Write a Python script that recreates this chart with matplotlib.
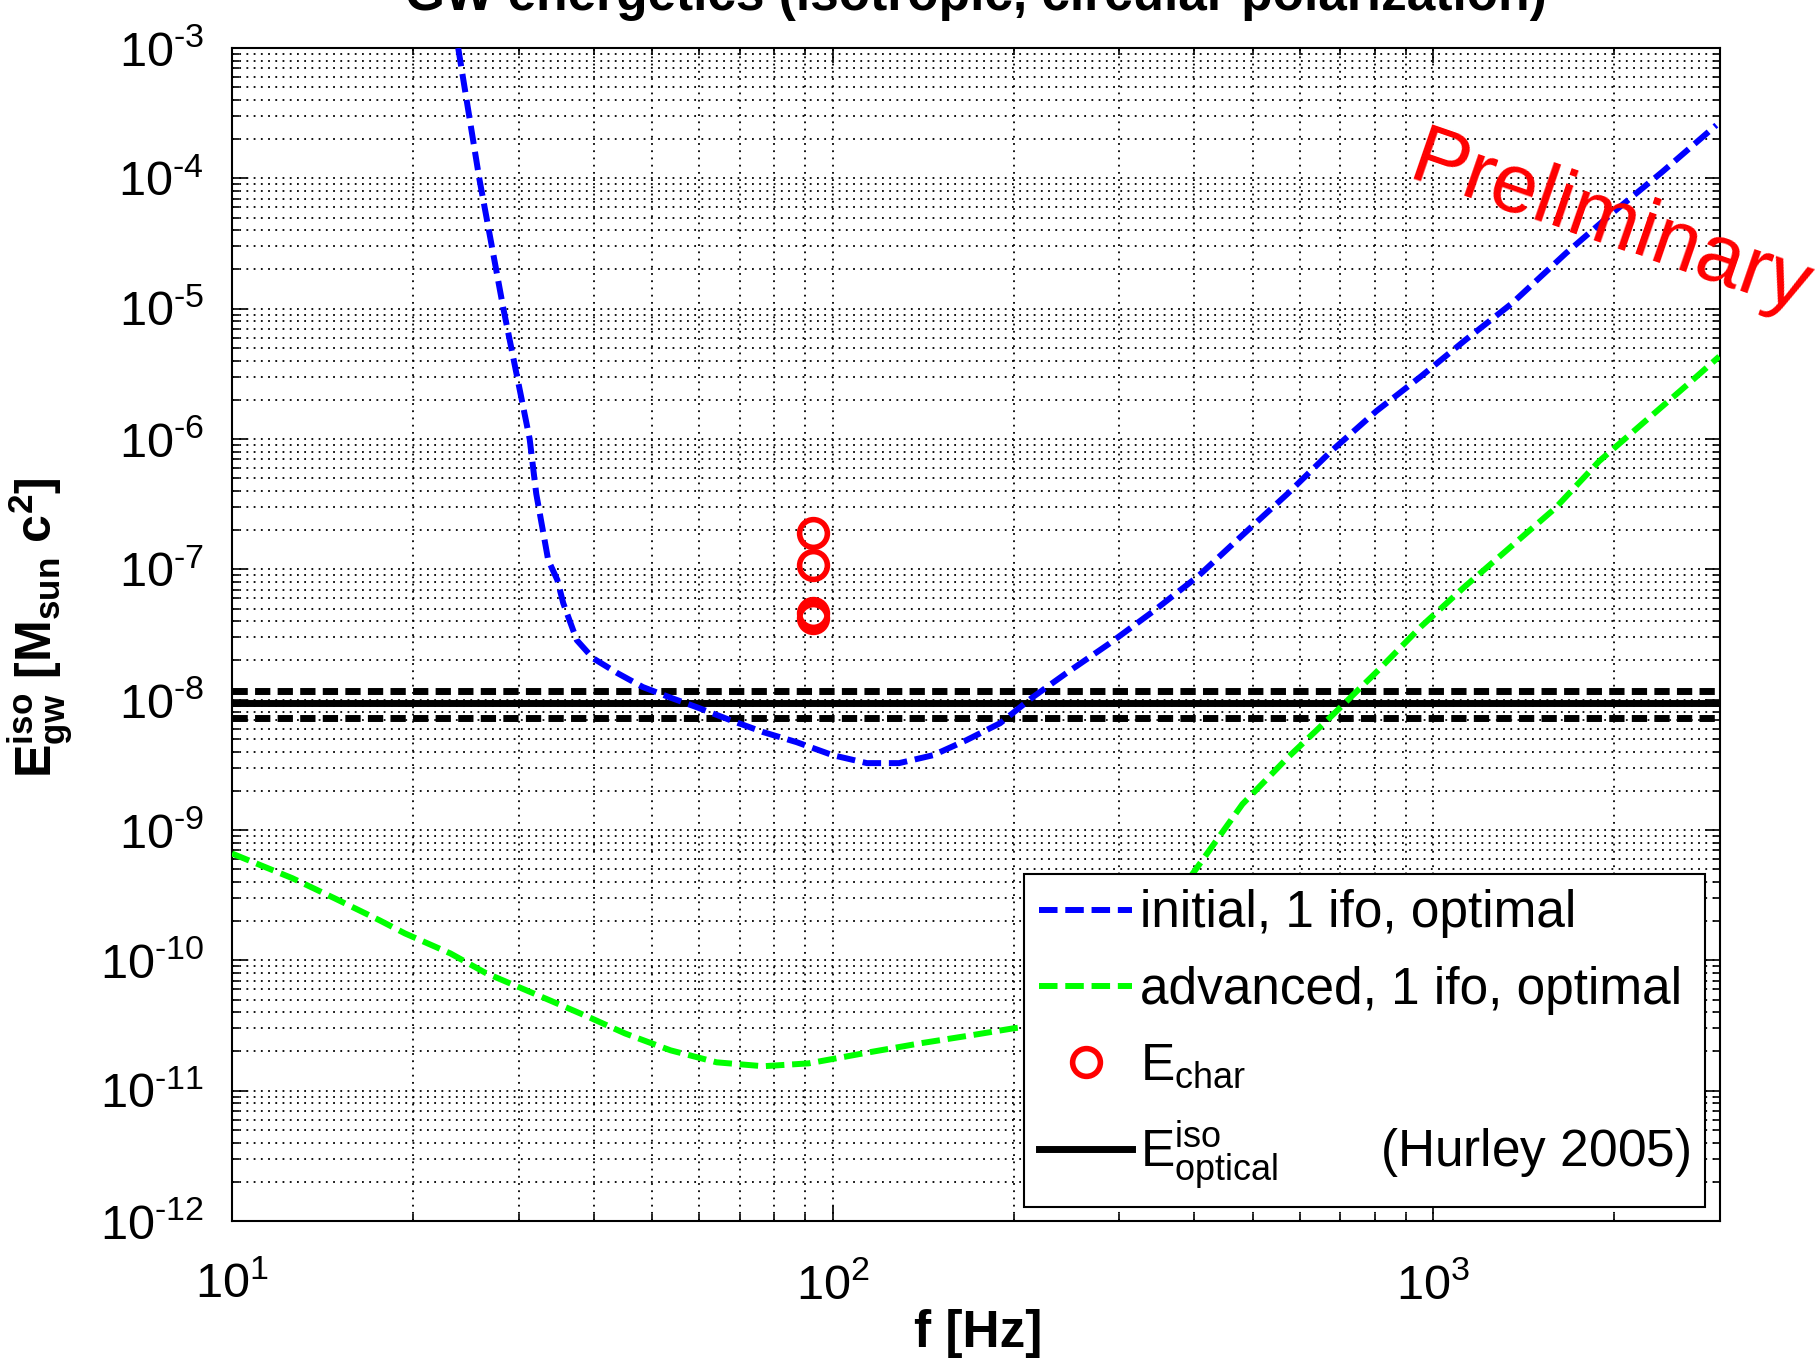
import matplotlib
matplotlib.use('agg')
import matplotlib.pyplot as plt
from matplotlib import font_manager
from matplotlib.ticker import LogLocator, NullFormatter

# initial detector, 1 ifo, optimal orientation
f_init = [23.8, 25.8, 28.3, 31.3, 32.1, 33.6, 34.8, 35.6, 37.5, 39.9, 43.8, 48.3,
          53.6, 59.4, 67.5, 76.6, 87.1, 100, 114, 129, 147, 167, 190, 215, 245,
          288, 342, 406, 481, 571, 676, 804, 955, 1130, 1352, 1663, 1986, 2404, 2958]
E_init = [1.0e-3, 1.0e-4, 1.0e-5, 1.0e-6, 3.8e-7, 1.18e-7, 8.3e-8, 5.5e-8, 2.86e-8,
          2.08e-8, 1.6e-8, 1.25e-8, 1.04e-8, 8.75e-9, 6.97e-9, 5.64e-9, 4.72e-9,
          3.75e-9, 3.26e-9, 3.26e-9, 3.75e-9, 4.89e-9, 6.6e-9, 1.04e-8, 1.6e-8,
          2.67e-8, 4.78e-8, 8.87e-8, 1.83e-7, 3.78e-7, 8.07e-7, 1.64e-6, 3.04e-6,
          5.74e-6, 1.10e-5, 2.67e-5, 5.42e-5, 1.12e-4, 2.56e-4]

# advanced detector (the part behind the legend is a guess)
f_adv = [10, 12.6, 14.8, 17.6, 19.4, 23.1, 26.5, 32.3, 39.3, 45.1, 53.7, 64.1, 76.6,
         91.2, 115, 140, 170, 200, 263, 399, 481, 571, 679, 804, 955, 1130, 1343,
         1596, 1888, 2244, 2667, 2992]
E_adv = [6.6e-10, 4.27e-10, 3.0e-10, 2.03e-10, 1.61e-10, 1.13e-10, 7.96e-11, 5.4e-11,
         3.66e-11, 2.75e-11, 2.04e-11, 1.65e-11, 1.54e-11, 1.62e-11, 1.97e-11,
         2.31e-11, 2.66e-11, 3.01e-11, 3.5e-11, 4.74e-10, 1.58e-9, 3.56e-9, 7.6e-9,
         1.63e-8, 3.66e-8, 7.43e-8, 1.48e-7, 2.95e-7, 6.76e-7, 1.35e-6, 2.69e-6, 4.3e-6]

# characteristic energies
f_char = [92.7, 92.7, 92.7, 92.7]
E_char = [1.90e-7, 1.08e-7, 4.65e-8, 4.26e-8]

# optical isotropic energy with its band
E_opt = 9.4e-9
E_opt_band = [1.17e-8, 7.24e-9]

xticks = [10, 100, 1000]
xticklabels = [r'$10^{1}$', r'$10^{2}$', r'$10^{3}$']
yticks = [1e-12, 1e-11, 1e-10, 1e-9, 1e-8, 1e-7, 1e-6, 1e-5, 1e-4, 1e-3]
yticklabels = [r'$10^{‐12}$', r'$10^{‐11}$', r'$10^{‐10}$', r'$10^{‐9}$', r'$10^{‐8}$',
               r'$10^{‐7}$', r'$10^{‐6}$', r'$10^{‐5}$', r'$10^{‐4}$', r'$10^{‐3}$']

plt.rcParams['font.family'] = 'Liberation Sans'
plt.rcParams['mathtext.default'] = 'regular'
plt.rcParams['font.size'] = 37

names = {f.name for f in font_manager.fontManager.ttflist}
if 'Liberation Sans Narrow' in names:
    tick_font, tick_size = 'Liberation Sans Narrow', 40
else:
    tick_font, tick_size = 'Liberation Sans', 35

fig = plt.figure(figsize=(18.19, 13.58), dpi=100)
ax = fig.add_axes([0.12754, 0.10088, 0.81803, 0.86377])

for e in E_opt_band:
    ax.axhline(e, color='k', lw=5, dashes=(2.2, 1.05), zorder=2)
l_opt, = ax.plot([1, 1e5], [E_opt, E_opt], color='k', lw=5, zorder=2)

l_init, = ax.loglog(f_init, E_init, color=(0, 0, 1), lw=4.3, dashes=(3.1, 1.3), zorder=3)
l_adv, = ax.loglog(f_adv, E_adv, color=(0, 1, 0), lw=4.3, dashes=(3.1, 1.3), zorder=3)
l_char, = ax.loglog(f_char, E_char, 'o', mfc='none', mec=(1, 0, 0), ms=20, mew=4, zorder=4)

ax.set_xscale('log')
ax.set_yscale('log')
ax.set_xlim(10, 3000)
ax.set_ylim(1e-12, 1e-3)
ax.set_xticks(xticks)
ax.set_xticklabels(xticklabels, fontfamily=tick_font, fontsize=tick_size)
ax.set_yticks(yticks)
ax.set_yticklabels(yticklabels, fontfamily=tick_font, fontsize=tick_size)
ax.yaxis.set_minor_locator(LogLocator(base=10, subs=range(2, 10), numticks=100))
ax.xaxis.set_minor_locator(LogLocator(base=10, subs=range(2, 10), numticks=100))
ax.yaxis.set_minor_formatter(NullFormatter())
ax.xaxis.set_minor_formatter(NullFormatter())

ax.grid(True, which='both', ls=(0, (1, 3)), lw=1.3, color='k')
ax.tick_params(which='both', direction='in', top=True, right=True, width=1.2)
ax.tick_params(which='major', length=11)
ax.tick_params(which='minor', length=5)
ax.tick_params(axis='x', pad=30)
ax.tick_params(axis='y', pad=20)
for s in ax.spines.values():
    s.set_linewidth(1.5)

leg = ax.legend([l_init, l_adv, l_char, l_opt],
                ['initial, 1 ifo, optimal', 'advanced, 1 ifo, optimal',
                 r'$E_{char}$', r'$E^{iso}_{optical}$       (Hurley 2005)'],
                loc='lower right', bbox_to_anchor=(0.990, 0.0119), borderaxespad=0,
                fontsize=37, handlelength=1.8, handletextpad=0.15, borderpad=0.3,
                labelspacing=0.53, numpoints=1, fancybox=False, framealpha=1,
                edgecolor='k')
leg.get_frame().set_linewidth(1.5)
leg.set_zorder(10)

fig.text(0.5366, 0.9926, 'GW energetics (isotropic, circular polarization)',
         ha='center', va='baseline', fontsize=37, fontweight='bold')
fig.text(0.5377, 0.0081, 'f [Hz]', ha='center', va='baseline',
         fontsize=37, fontweight='bold')
fig.text(0.0292, 0.5376, r'$E^{iso}_{gw}$ [$M_{sun}$ $c^2$]', rotation=90,
         rotation_mode='anchor', ha='center', va='baseline',
         fontsize=36, fontweight='bold')
fig.text(0.7725, 0.8689, 'Preliminary', color=(1, 0, 0), fontsize=60,
         rotation=-19, rotation_mode='anchor', ha='left', va='baseline')

plt.savefig('out.png', dpi=100)
plt.close()
